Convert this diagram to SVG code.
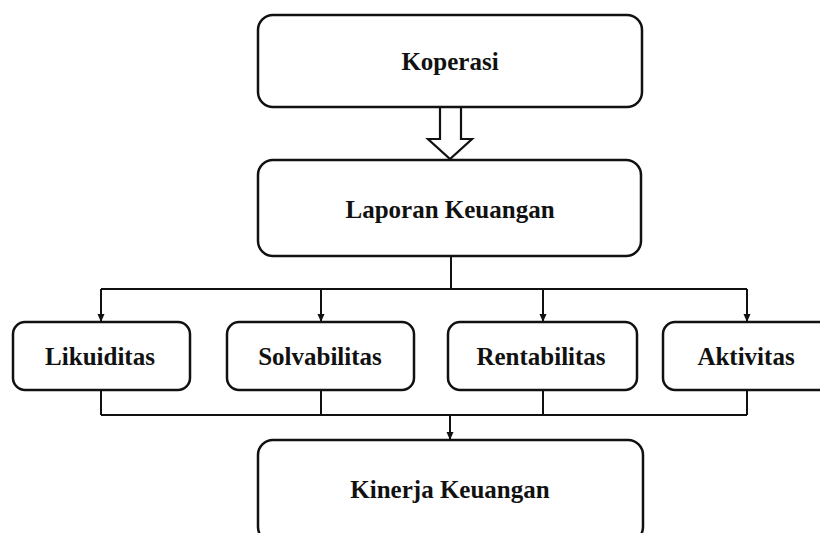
<svg xmlns="http://www.w3.org/2000/svg" width="820" height="533" viewBox="0 0 820 533">
<style>
.box{fill:#fff;stroke:#111;stroke-width:2.5}
.t{font-family:"Liberation Serif","Times New Roman",serif;font-weight:bold;font-size:25px;fill:#111;text-anchor:middle}
.ln{fill:none;stroke:#111;stroke-width:2}
</style>
<defs>
<marker id="ah" markerWidth="8" markerHeight="8" refX="7" refY="4" orient="auto" markerUnits="userSpaceOnUse">
<path d="M0,0.5 L8,4 L0,7.5 Z" fill="#111"/>
</marker>
</defs>
<rect width="820" height="533" fill="#fff"/>
<g id="connectors">
<path class="ln" d="M451,257 V289 M101,289 H747"/>
<path class="ln" d="M101,289 V321" marker-end="url(#ah)"/>
<path class="ln" d="M321,289 V321" marker-end="url(#ah)"/>
<path class="ln" d="M543,289 V321" marker-end="url(#ah)"/>
<path class="ln" d="M747,289 V321" marker-end="url(#ah)"/>
<path class="ln" d="M101,391 V415 M321,391 V415 M543,391 V415 M747,391 V415 M101,415 H747"/>
<path class="ln" d="M450,415 V439" marker-end="url(#ah)"/>
<path d="M440,108 V139 H428 L450,159 L472,139 H461 V108" fill="#fff" stroke="#111" stroke-width="2.2" stroke-linejoin="miter"/>
</g>
<g id="koperasi"><rect class="box" x="258" y="15" width="384" height="92" rx="15"/><text class="t" x="450" y="70">Koperasi</text></g>
<g id="laporan"><rect class="box" x="258" y="160" width="383" height="96" rx="15"/><text class="t" x="450" y="218">Laporan Keuangan</text></g>
<g id="likuiditas"><rect class="box" x="13" y="322" width="177" height="68" rx="12"/><text class="t" x="100" y="365">Likuiditas</text></g>
<g id="solvabilitas"><rect class="box" x="227" y="322" width="187" height="68" rx="12"/><text class="t" x="320" y="365">Solvabilitas</text></g>
<g id="rentabilitas"><rect class="box" x="448" y="322" width="189" height="68" rx="12"/><text class="t" x="541" y="365">Rentabilitas</text></g>
<g id="aktivitas"><rect class="box" x="663" y="322" width="168" height="68" rx="12"/><text class="t" x="746" y="365">Aktivitas</text></g>
<g id="kinerja"><rect class="box" x="258" y="440" width="385" height="102" rx="15"/><text class="t" x="450" y="498">Kinerja Keuangan</text></g>
</svg>
